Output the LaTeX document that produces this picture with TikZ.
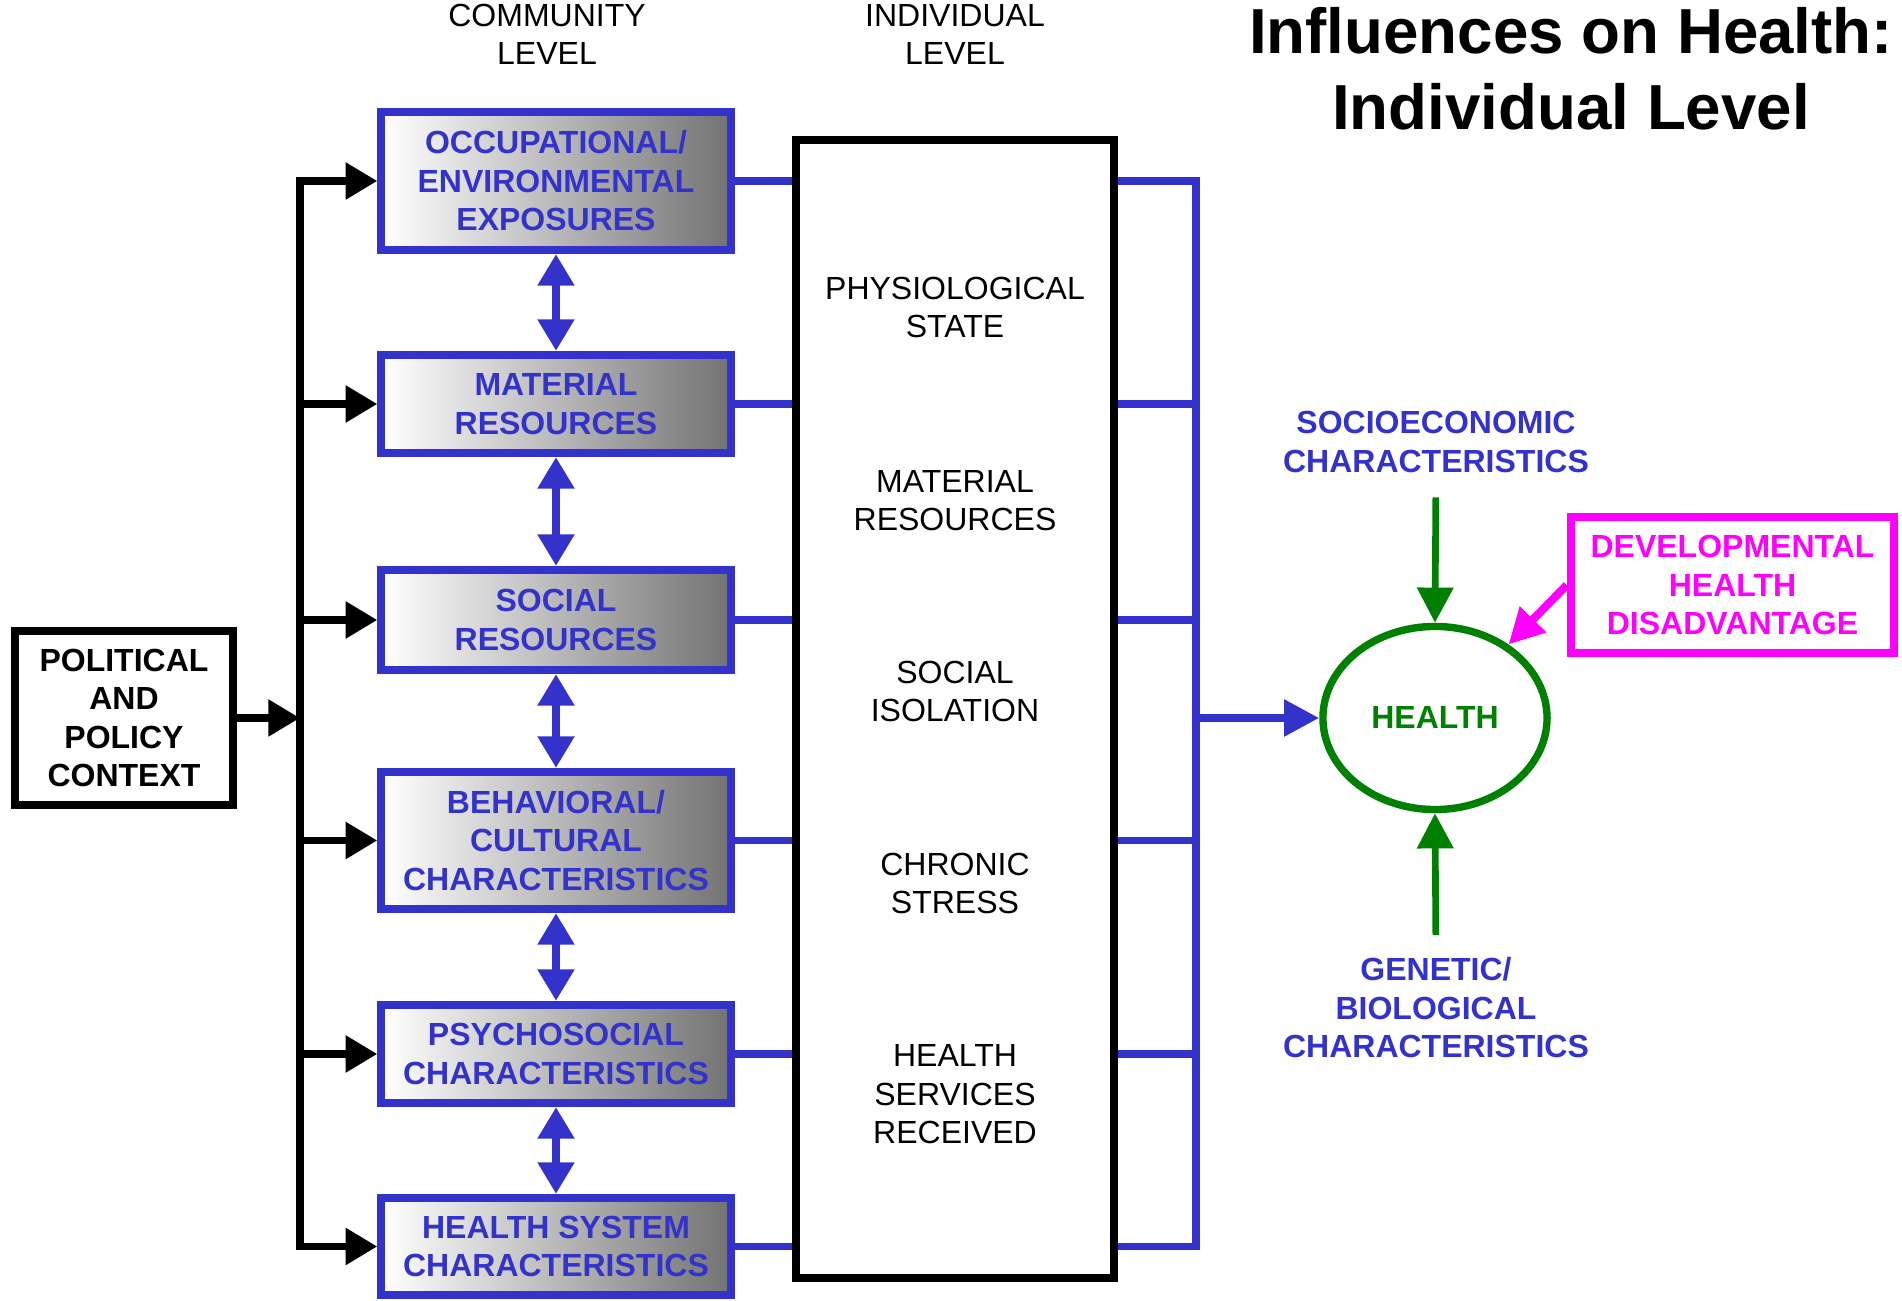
\documentclass[tikz,border=0pt]{standalone}
\usepackage{fontspec}
\setmainfont{Liberation Sans}
\usetikzlibrary{arrows.meta, positioning, shapes.geometric}
\definecolor{cblue}{HTML}{3333CC}
\definecolor{cgreen}{HTML}{008000}
\definecolor{cmagenta}{HTML}{FF00FF}
\tikzset{
  lbl/.style={font=\fontsize{9.1}{10.95}\selectfont, align=center, inner sep=0pt},
  blbl/.style={lbl, font=\fontsize{9.1}{10.95}\selectfont\bfseries},
  combox/.style={blbl, draw=cblue, line width=2.3pt, left color=white, right color=black!55, text=cblue, minimum width=3.49cm},
  bus/.style={line width=2.1pt, line cap=rect},
  blackarrow/.style={line width=2.2pt, -{Triangle[length=9pt,width=10pt]}},
  bluelink/.style={draw=cblue, line width=2.1pt},
  bluearrow/.style={cblue, line width=2.3pt, {Triangle[length=9pt,width=10pt]}-{Triangle[length=9pt,width=10pt]}},
  bluetip/.style={cblue, line width=2.3pt, -{Triangle[length=10pt,width=10pt]}},
  greenarrow/.style={cgreen, line width=1.9pt, -{Triangle[length=10pt,width=10pt]}},
  magarrow/.style={cmagenta, line width=2.3pt, -{Triangle[length=10pt,width=10pt]}}
}
\begin{document}
\begin{tikzpicture}[x=0.01cm, y=-0.01cm]
\useasboundingbox (0,0) rectangle (1902,1301);

\node[font=\fontsize{18.1}{21.7}\selectfont\bfseries, align=center, inner sep=0pt](T) at (1571,68.5) {Influences on Health:\\Individual Level};
\node[lbl](hC) at (547,34.5) {COMMUNITY\\LEVEL};
\node[lbl](hI) at (955,34.5) {INDIVIDUAL\\LEVEL};

\node[combox, minimum height=1.38cm](C1) at (556,181) {OCCUPATIONAL/\\ENVIRONMENTAL\\EXPOSURES};
\node[combox, minimum height=0.98cm](C2) at (556,404) {MATERIAL\\RESOURCES};
\node[combox, minimum height=1.00cm](C3) at (556,620) {SOCIAL\\RESOURCES};
\node[combox, minimum height=1.37cm](C4) at (556,840.5) {BEHAVIORAL/\\CULTURAL\\CHARACTERISTICS};
\node[combox, minimum height=0.98cm](C5) at (556,1054) {PSYCHOSOCIAL\\CHARACTERISTICS};
\node[combox, minimum height=0.97cm](C6) at (556,1246.5) {HEALTH SYSTEM\\CHARACTERISTICS};

\node[blbl, draw, line width=2.2pt, minimum width=2.18cm, minimum height=1.74cm](P) at (124,718) {POLITICAL\\AND\\POLICY\\CONTEXT};

\node[draw, line width=2.2pt, minimum width=3.18cm, minimum height=11.38cm, inner sep=0pt](I) at (955,709) {};
\node[lbl](I1) at (955,307.5) {PHYSIOLOGICAL\\STATE};
\node[lbl](I2) at (955,500.5) {MATERIAL\\RESOURCES};
\node[lbl](I3) at (955,691.5) {SOCIAL\\ISOLATION};
\node[lbl](I4) at (955,883.5) {CHRONIC\\STRESS};
\node[lbl](I5) at (955,1094.5) {HEALTH\\SERVICES\\RECEIVED};

\node[ellipse, draw=cgreen, line width=2.1pt, minimum width=2.24cm, minimum height=1.83cm, inner sep=0pt, text=cgreen, blbl](H) at (1435,718) {HEALTH};
\node[blbl, text=cblue](S) at (1436,442) {SOCIOECONOMIC\\CHARACTERISTICS};
\node[blbl, text=cblue](G) at (1436,1008) {GENETIC/\\BIOLOGICAL\\CHARACTERISTICS};
\node[blbl, draw=cmagenta, text=cmagenta, line width=2.4pt, minimum width=3.23cm, minimum height=1.36cm](D) at (1732.5,585) {DEVELOPMENTAL\\HEALTH\\DISADVANTAGE};

\coordinate (bus) at (300,0);
\coordinate (rbus) at (1196,0);

% political context feeds every community box
\draw[bus] (C1.west -| bus) -- (C6.west -| bus);
\draw[blackarrow] (P.east) -- (P.east -| bus);
\draw[blackarrow] (C1.west -| bus) -- (C1.west);
\draw[blackarrow] (C2.west -| bus) -- (C2.west);
\draw[blackarrow] (C3.west -| bus) -- (C3.west);
\draw[blackarrow] (C4.west -| bus) -- (C4.west);
\draw[blackarrow] (C5.west -| bus) -- (C5.west);
\draw[blackarrow] (C6.west -| bus) -- (C6.west);

\draw[bluearrow] (C1) -- (C2);
\draw[bluearrow] (C2) -- (C3);
\draw[bluearrow] (C3) -- (C4);
\draw[bluearrow] (C4) -- (C5);
\draw[bluearrow] (C5) -- (C6);

\draw[bluelink] (C1.east) -- (C1.east -| I.west);
\draw[bluelink] (C2.east) -- (C2.east -| I.west);
\draw[bluelink] (C3.east) -- (C3.east -| I.west);
\draw[bluelink] (C4.east) -- (C4.east -| I.west);
\draw[bluelink] (C5.east) -- (C5.east -| I.west);
\draw[bluelink] (C6.east) -- (C6.east -| I.west);

\draw[bluelink] (C1.east -| I.east) -- (C1.east -| rbus);
\draw[bluelink] (C2.east -| I.east) -- (C2.east -| rbus);
\draw[bluelink] (C3.east -| I.east) -- (C3.east -| rbus);
\draw[bluelink] (C4.east -| I.east) -- (C4.east -| rbus);
\draw[bluelink] (C5.east -| I.east) -- (C5.east -| rbus);
\draw[bluelink] (C6.east -| I.east) -- (C6.east -| rbus);
\draw[bluelink, line cap=rect] (C1.east -| rbus) -- (C6.east -| rbus);
\draw[bluetip] (H.west -| rbus) -- (H.west);

\draw[greenarrow, shorten <=0.24cm] (S.south) -- (H.north);
\draw[greenarrow, shorten <=0.22cm] (G.north) -- (H.south);
\draw[magarrow] (D.west) -- (H.45);
\end{tikzpicture}
\end{document}
